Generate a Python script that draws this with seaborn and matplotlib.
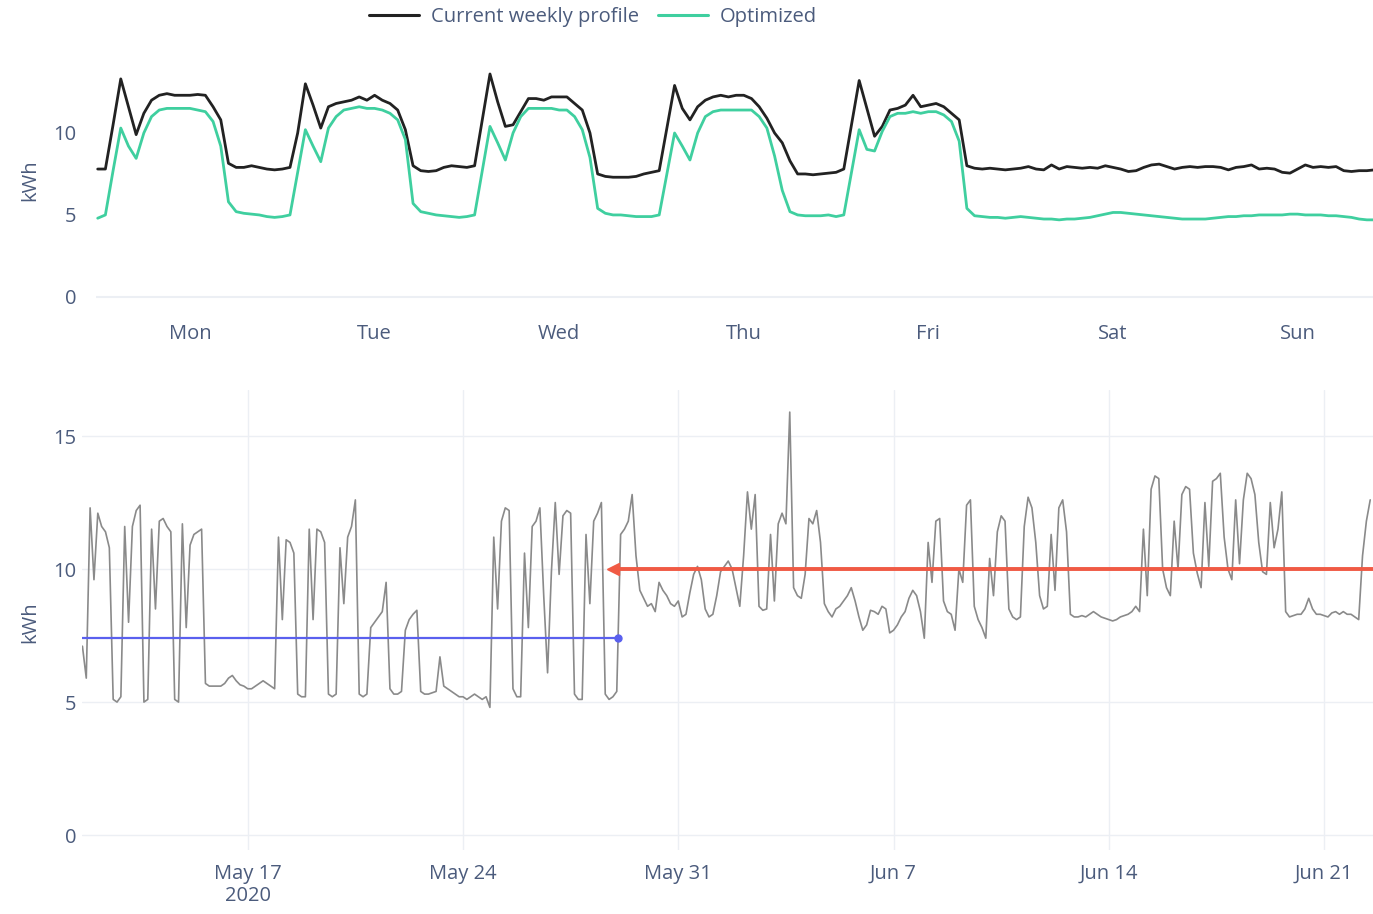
import numpy as np
import pandas as pd
import matplotlib
matplotlib.use("Agg")
import matplotlib.pyplot as plt
import seaborn as sns
from matplotlib.lines import Line2D

# ---------------- data: weekly profile (hourly, kWh) ----------------
day_labels = ["Mon", "Tue", "Wed", "Thu", "Fri", "Sat", "Sun"]

cur_mon = [7.8, 7.8, 10.5, 13.3, 11.6, 9.9, 11.2, 12.0, 12.3, 12.4, 12.3, 12.3, 12.3, 12.35, 12.3, 11.6, 10.8, 8.15, 7.9, 7.9, 8.0, 7.9, 7.8, 7.75]
cur_tue = [7.8, 7.9, 10.0, 13.0, 11.7, 10.3, 11.6, 11.8, 11.9, 12.0, 12.2, 12.0, 12.3, 12.0, 11.8, 11.4, 10.2, 8.0, 7.7, 7.65, 7.7, 7.9, 8.0, 7.95]
cur_wed = [7.9, 8.0, 10.8, 13.6, 11.9, 10.4, 10.5, 11.3, 12.1, 12.1, 12.0, 12.2, 12.2, 12.2, 11.8, 11.4, 10.0, 7.5, 7.35, 7.3, 7.3, 7.3, 7.35, 7.5]
cur_thu = [7.6, 7.7, 10.3, 12.9, 11.5, 10.8, 11.6, 12.0, 12.2, 12.3, 12.2, 12.3, 12.3, 12.1, 11.6, 10.9, 10.0, 9.4, 8.3, 7.5, 7.5, 7.45, 7.5, 7.55]
cur_fri = [7.6, 7.8, 10.5, 13.2, 11.5, 9.8, 10.4, 11.4, 11.5, 11.7, 12.3, 11.6, 11.7, 11.8, 11.6, 11.2, 10.8, 8.0, 7.85, 7.8, 7.85, 7.8, 7.75, 7.8]
cur_sat = [7.85, 7.95, 7.8, 7.75, 8.05, 7.8, 7.95, 7.9, 7.85, 7.9, 7.85, 8.0, 7.9, 7.8, 7.65, 7.7, 7.9, 8.05, 8.1, 7.95, 7.8, 7.9, 7.95, 7.9]
cur_sun = [7.95, 7.95, 7.9, 7.75, 7.9, 7.95, 8.05, 7.8, 7.85, 7.8, 7.6, 7.55, 7.8, 8.05, 7.9, 7.95, 7.9, 7.95, 7.7, 7.65, 7.7, 7.7, 7.75, 7.8]

opt_mon = [4.8, 5.0, 7.7, 10.3, 9.2, 8.45, 10.0, 11.0, 11.4, 11.5, 11.5, 11.5, 11.5, 11.4, 11.3, 10.7, 9.2, 5.8, 5.2, 5.1, 5.05, 5.0, 4.9, 4.85]
opt_tue = [4.9, 5.0, 7.6, 10.2, 9.2, 8.25, 10.3, 11.0, 11.4, 11.5, 11.6, 11.5, 11.5, 11.4, 11.2, 10.8, 9.6, 5.7, 5.2, 5.1, 5.0, 4.95, 4.9, 4.85]
opt_wed = [4.9, 5.0, 7.7, 10.4, 9.4, 8.35, 10.0, 11.0, 11.5, 11.5, 11.5, 11.5, 11.4, 11.4, 11.0, 10.2, 8.5, 5.4, 5.1, 5.0, 5.0, 4.95, 4.9, 4.9]
opt_thu = [4.9, 5.0, 7.5, 10.0, 9.2, 8.35, 10.0, 11.0, 11.3, 11.4, 11.4, 11.4, 11.4, 11.4, 11.0, 10.3, 8.6, 6.5, 5.2, 5.0, 4.95, 4.95, 4.95, 5.0]
opt_fri = [4.9, 5.0, 7.6, 10.2, 9.0, 8.9, 10.1, 11.0, 11.2, 11.2, 11.3, 11.2, 11.3, 11.3, 11.1, 10.7, 9.5, 5.4, 4.95, 4.9, 4.85, 4.85, 4.8, 4.85]
opt_sat = [4.9, 4.85, 4.8, 4.75, 4.75, 4.7, 4.75, 4.75, 4.8, 4.85, 4.95, 5.05, 5.15, 5.15, 5.1, 5.05, 5.0, 4.95, 4.9, 4.85, 4.8, 4.75, 4.75, 4.75]
opt_sun = [4.75, 4.8, 4.85, 4.9, 4.9, 4.95, 4.95, 5.0, 5.0, 5.0, 5.0, 5.05, 5.05, 5.0, 5.0, 5.0, 4.95, 4.95, 4.9, 4.85, 4.75, 4.7, 4.7, 4.7]

# ---------------- data: measured consumption (3-hourly, kWh) ----------------
series_start = "2020-05-11 15:00"
week1 = [7.1, 5.9, 12.3, 9.6, 12.1, 11.6, 11.4, 10.8,
         5.1, 5.0, 5.2, 11.6, 8.0, 11.6, 12.2, 12.4,
         5.0, 5.1, 11.5, 8.5, 11.8, 11.9, 11.6, 11.4,
         5.1, 5.0, 11.7, 7.8, 10.9, 11.3, 11.4, 11.5,
         5.7, 5.6, 5.6, 5.6, 5.6, 5.7, 5.9, 6.0,
         5.8, 5.65, 5.6, 5.5, 5.5, 5.6, 5.7, 5.8,
         5.7, 5.6, 5.5, 11.2, 8.1, 11.1, 11.0, 10.6]
week2 = [5.3, 5.2, 5.2, 11.5, 8.1, 11.5, 11.4, 11.0,
         5.3, 5.2, 5.3, 10.8, 8.7, 11.2, 11.6, 12.6,
         5.3, 5.2, 5.3, 7.8, 8.0, 8.2, 8.4, 9.5,
         5.5, 5.3, 5.3, 5.4, 7.7, 8.1, 8.3, 8.45,
         5.4, 5.3, 5.3, 5.35, 5.4, 6.7, 5.6, 5.5,
         5.4, 5.3, 5.2, 5.2, 5.1, 5.2, 5.3, 5.2,
         5.1, 5.2, 4.8, 11.2, 8.5, 11.8, 12.3, 12.2]
week3 = [5.5, 5.2, 5.2, 10.6, 7.8, 11.6, 11.8, 12.3,
         9.0, 6.1, 9.9, 12.5, 9.8, 12.0, 12.2, 12.1,
         5.3, 5.1, 5.1, 11.3, 8.7, 11.8, 12.1, 12.5,
         5.3, 5.1, 5.2, 5.4, 11.3, 11.5, 11.8, 12.8,
         10.5, 9.2, 8.9, 8.6, 8.7, 8.4, 9.5, 9.2,
         9.0, 8.7, 8.6, 8.8, 8.2, 8.3, 9.1, 9.8,
         10.1, 9.6, 8.5, 8.2, 8.3, 9.0, 9.9, 10.1]
week4 = [10.3, 10.0, 9.3, 8.6, 10.5, 12.9, 11.5, 12.8,
         8.6, 8.45, 8.5, 11.3, 8.8, 11.7, 12.1, 11.7,
         15.9, 9.3, 9.0, 8.9, 9.8, 11.9, 11.7, 12.2,
         11.0, 8.7, 8.4, 8.2, 8.5, 8.6, 8.8, 9.0,
         9.3, 8.8, 8.2, 7.7, 7.9, 8.45, 8.4, 8.3,
         8.6, 8.5, 7.6, 7.7, 7.9, 8.2, 8.4, 8.9,
         9.2, 9.0, 8.4, 7.4, 11.0, 9.5, 11.8, 11.9]
week5 = [8.8, 8.4, 8.3, 7.7, 10.0, 9.5, 12.4, 12.6,
         8.6, 8.1, 7.8, 7.4, 10.4, 9.0, 11.4, 12.0,
         11.8, 8.5, 8.2, 8.1, 8.2, 11.6, 12.7, 12.3,
         11.0, 9.0, 8.5, 8.6, 11.3, 9.2, 12.3, 12.6,
         11.4, 8.3, 8.2, 8.2, 8.25, 8.2, 8.3, 8.4,
         8.3, 8.2, 8.15, 8.1, 8.05, 8.1, 8.2, 8.25,
         8.3, 8.4, 8.6, 8.4, 11.5, 9.0, 13.0, 13.5]
week6 = [13.4, 10.0, 9.3, 9.0, 11.8, 10.0, 12.8, 13.1,
         13.0, 10.6, 9.85, 9.3, 12.5, 10.1, 13.3, 13.4,
         13.6, 11.2, 10.0, 9.6, 12.6, 10.2, 12.6, 13.6,
         13.4, 12.8, 11.0, 9.9, 9.8, 12.5, 10.8, 11.5,
         12.9, 8.4, 8.2, 8.25, 8.3, 8.3, 8.5, 8.9,
         8.5, 8.3, 8.3, 8.25, 8.2, 8.35, 8.4, 8.3,
         8.4, 8.3, 8.3, 8.2, 8.1, 10.5, 11.8, 12.6]

# averages before / after the change
before_dates = ["2020-05-11 15:00", "2020-05-29 01:00"]
before_avg = [7.4, 7.4]
after_dates = ["2020-05-28 21:00", "2020-06-22 15:00"]
after_avg = [10.0, 10.0]

bottom_ticks = ["2020-05-17", "2020-05-24", "2020-05-31", "2020-06-07", "2020-06-14", "2020-06-21"]
bottom_tick_labels = ["May 17\n2020", "May 24", "May 31", "Jun 7", "Jun 14", "Jun 21"]

# ---------------- build frames ----------------
current = cur_mon + cur_tue + cur_wed + cur_thu + cur_fri + cur_sat + cur_sun
optimized = opt_mon + opt_tue + opt_wed + opt_thu + opt_fri + opt_sat + opt_sun
hours = np.arange(len(current))
prof = pd.DataFrame({
    "hour": np.concatenate([hours, hours]),
    "kWh": current + optimized,
    "series": ["Current weekly profile"] * len(current) + ["Optimized"] * len(optimized),
})

meas_vals = week1 + week2 + week3 + week4 + week5 + week6
meas = pd.DataFrame({
    "time": pd.date_range(series_start, periods=len(meas_vals), freq="3h"),
    "kWh": meas_vals,
})

# ---------------- style ----------------
sns.set_theme(style="white")
plt.rcParams["font.family"] = ["Open Sans", "DejaVu Sans"]
tick_color = "#4b5b7c"
grid_color = "#eceff4"
black = "#222222"
teal = "#3fcf9f"
FS = 14.5

W, H = 1373, 914
fig = plt.figure(figsize=(W / 100, H / 100), dpi=100)

def px_axes(left, top, right, bottom):
    return fig.add_axes([left / W, 1 - bottom / H, (right - left) / W, (bottom - top) / H])

# ---------------- top: weekly profile ----------------
ax1 = px_axes(96, 62.5, 1373, 310)
sns.lineplot(data=prof, x="hour", y="kWh", hue="series",
             palette={"Current weekly profile": black, "Optimized": teal},
             linewidth=2.0, ax=ax1, legend=False)
ax1.set_xlim(-0.22, 165.8)
ax1.set_ylim(-0.8, 14.3)
ax1.set_xticks(np.arange(7) * 24 + 12)
ax1.set_xticklabels(day_labels)
ax1.set_yticks([0, 5, 10])
ax1.set_yticklabels(["0", "5", "10"])
ax1.axhline(0, color=grid_color, linewidth=1.5, zorder=0)
ax1.set_xlabel("")
ax1.set_ylabel("")
ax1.tick_params(axis="x", length=0, pad=10, labelsize=FS, colors=tick_color)
ax1.tick_params(axis="y", length=0, pad=14, labelsize=FS, colors=tick_color)
for s in ax1.spines.values():
    s.set_visible(False)
ax1.set_axisbelow(True)

# ---------------- bottom: measured ----------------
ax2 = px_axes(82, 390, 1373, 850)
sns.lineplot(data=meas, x="time", y="kWh", color="#8a8a8a", linewidth=1.2, ax=ax2)
bd = pd.to_datetime(before_dates)
ad = pd.to_datetime(after_dates)
ax2.plot(bd, before_avg, color="#5a60ee", linewidth=1.6)
ax2.plot(bd[-1:], before_avg[-1:], color="#5a60ee", marker="o", markersize=5, linestyle="none")
ax2.plot(ad, after_avg, color="#f05a44", linewidth=2.8)
ax2.plot(ad[:1], after_avg[:1], color="#f05a44", marker="<", markersize=8, linestyle="none")
ax2.set_xlim(pd.Timestamp("2020-05-11 14:40"), pd.Timestamp("2020-06-22 14:10"))
ax2.set_ylim(-0.56, 16.73)
ax2.set_xticks(pd.to_datetime(bottom_ticks))
ax2.set_xticklabels(bottom_tick_labels, linespacing=1.15)
ax2.set_yticks([0, 5, 10, 15])
ax2.set_yticklabels(["0", "5", "10", "15"])
ax2.grid(True, color=grid_color, linewidth=1)
ax2.set_xlabel("")
ax2.set_ylabel("")
ax2.tick_params(axis="x", length=0, pad=10, labelsize=FS, colors=tick_color)
ax2.tick_params(axis="y", length=0, pad=4, labelsize=FS, colors=tick_color)
for s in ax2.spines.values():
    s.set_visible(False)
ax2.set_axisbelow(True)

# ---------------- labels & legend ----------------
fig.text(30 / W, 1 - 180 / H, "kWh", rotation=90, ha="center", va="center", fontsize=FS, color=tick_color)
fig.text(30 / W, 1 - 622 / H, "kWh", rotation=90, ha="center", va="center", fontsize=FS, color=tick_color)

handles = [Line2D([], [], color=black, linewidth=2.2), Line2D([], [], color=teal, linewidth=2.2)]
fig.legend(handles, ["Current weekly profile", "Optimized"], loc="center",
           bbox_to_anchor=(593 / W, 1 - 17 / H), ncol=2, frameon=False,
           fontsize=FS, handlelength=2.5, handletextpad=0.6, columnspacing=0.9,
           labelcolor=tick_color, borderpad=0)

fig.savefig("out.png", dpi=100)
